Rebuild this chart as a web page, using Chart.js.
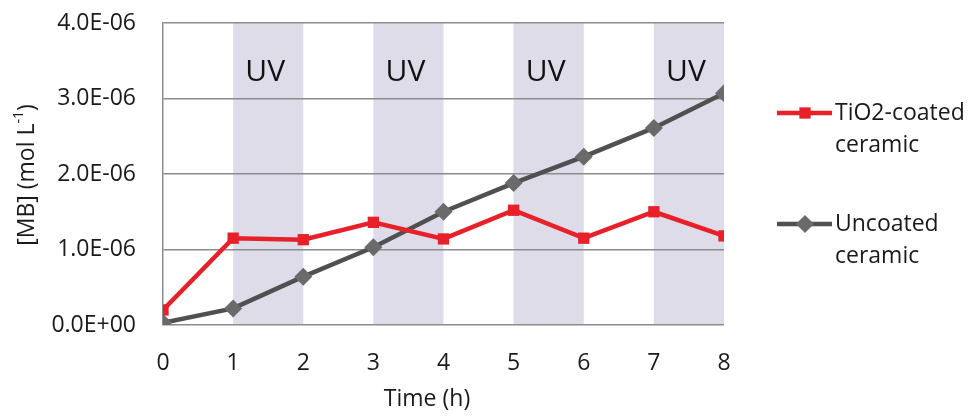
<!DOCTYPE html>
<html>
<head>
<meta charset="utf-8">
<script src="https://cdn.jsdelivr.net/npm/chart.js@4/dist/chart.umd.min.js"></script>
<style>
  html, body { margin: 0; padding: 0; background: #fff; }
</style>
</head>
<body>
<canvas id="mb-chart" width="970" height="416"></canvas>
<script>
// time points (h)
const hours = [0, 1, 2, 3, 4, 5, 6, 7, 8];
// [MB] in mol/L
const coatedValues = [0.20e-6, 1.15e-6, 1.13e-6, 1.36e-6, 1.14e-6, 1.52e-6, 1.15e-6, 1.50e-6, 1.18e-6];
const uncoatedValues = [0.03e-6, 0.22e-6, 0.64e-6, 1.03e-6, 1.50e-6, 1.88e-6, 2.23e-6, 2.61e-6, 3.07e-6];
// UV on periods
const uvBands = [[1, 2], [3, 4], [5, 6], [7, 8]];
const uvLabel = 'UV';
const yTicks = [0, 1e-6, 2e-6, 3e-6, 4e-6];

const FONT = '"Open Sans", sans-serif';
const RED = '#e8202a';
const GREY = '#505050';

function toPoints(vals) {
  return hours.map((h, i) => ({ x: h, y: vals[i] }));
}

function fmtSci(v) {
  // Excel style 1.0E-06
  if (v === 0) return '0.0E+00';
  let exp = Math.floor(Math.log10(Math.abs(v)) + 1e-9);
  let mant = v / Math.pow(10, exp);
  let sign = exp < 0 ? '-' : '+';
  let e = String(Math.abs(exp)).padStart(2, '0');
  return mant.toFixed(1) + 'E' + sign + e;
}

const uvPlugin = {
  id: 'uvBands',
  beforeDraw(chart) {
    const { ctx, chartArea, scales } = chart;
    ctx.save();
    ctx.fillStyle = '#dddce8';
    uvBands.forEach(b => {
      let x1 = scales.x.getPixelForValue(b[0]);
      let x2 = scales.x.getPixelForValue(b[1]);
      ctx.fillRect(x1, chartArea.top, x2 - x1, chartArea.bottom - chartArea.top);
    });
    ctx.fillStyle = '#111';
    ctx.font = '30px ' + FONT;
    ctx.textAlign = 'center';
    ctx.textBaseline = 'middle';
    uvBands.forEach(b => {
      let cx = scales.x.getPixelForValue((b[0] + b[1]) / 2);
      ctx.fillText(uvLabel, cx - 3, 72);
    });
    ctx.restore();
  }
};

const extrasPlugin = {
  id: 'extras',
  afterDraw(chart) {
    const { ctx } = chart;
    ctx.save();
    ctx.fillStyle = '#1a1a1a';
    ctx.textBaseline = 'middle';

    // x title
    ctx.font = '23px ' + FONT;
    ctx.textAlign = 'center';
    ctx.fillText('Time (h)', 427, 399);

    // y title with superscript
    ctx.save();
    ctx.translate(27, 175);
    ctx.rotate(-Math.PI / 2);
    const main = '[MB] (mol L';
    const sup = '-1';
    const tail = ')';
    ctx.font = '23px ' + FONT;
    let wMain = ctx.measureText(main).width;
    let wTail = ctx.measureText(tail).width;
    ctx.font = '14px ' + FONT;
    let wSup = ctx.measureText(sup).width;
    let x0 = -(wMain + wSup + wTail) / 2;
    ctx.textAlign = 'left';
    ctx.font = '23px ' + FONT;
    ctx.fillText(main, x0, 0);
    ctx.font = '14px ' + FONT;
    ctx.fillText(sup, x0 + wMain, -8);
    ctx.font = '23px ' + FONT;
    ctx.fillText(tail, x0 + wMain + wSup, 0);
    ctx.restore();

    // legend
    const items = [
      { ds: chart.data.datasets[0], lines: ['TiO2-coated', 'ceramic'], y: 113 },
      { ds: chart.data.datasets[1], lines: ['Uncoated', 'ceramic'], y: 224 }
    ];
    items.forEach(it => {
      ctx.strokeStyle = it.ds.borderColor;
      ctx.lineWidth = 4.5;
      ctx.beginPath();
      ctx.moveTo(777, it.y);
      ctx.lineTo(832, it.y);
      ctx.stroke();
      ctx.fillStyle = it.ds.backgroundColor;
      ctx.strokeStyle = it.ds.backgroundColor;
      Chart.helpers.drawPoint(ctx, {
        pointStyle: it.ds.pointStyle,
        radius: it.ds.pointRadius,
        borderWidth: 0
      }, 805, it.y);
      ctx.fillStyle = '#1a1a1a';
      ctx.font = '23px ' + FONT;
      ctx.textAlign = 'left';
      it.lines.forEach((t, i) => ctx.fillText(t, 835, it.y + i * 32));
    });
    ctx.restore();
  }
};

new Chart(document.getElementById('mb-chart'), {
  type: 'line',
  data: {
    datasets: [
      {
        label: 'TiO2-coated ceramic',
        data: toPoints(coatedValues),
        borderColor: RED,
        backgroundColor: RED,
        borderWidth: 4.5,
        pointStyle: 'rect',
        pointRadius: 8,
        pointBorderWidth: 0,
        tension: 0
      },
      {
        label: 'Uncoated ceramic',
        data: toPoints(uncoatedValues),
        borderColor: GREY,
        backgroundColor: '#6a6a6a',
        borderWidth: 4.5,
        pointStyle: 'rectRot',
        pointRadius: 9,
        pointBorderWidth: 0,
        tension: 0
      }
    ]
  },
  options: {
    responsive: false,
    animation: false,
    devicePixelRatio: 1,
    layout: { padding: { top: 23, right: 246, bottom: 0, left: 0 } },
    plugins: {
      legend: { display: false },
      tooltip: { enabled: false }
    },
    scales: {
      x: {
        type: 'linear',
        min: 0,
        max: 8,
        afterFit(scale) { scale.height = 91; },
        afterBuildTicks(scale) { scale.ticks = hours.map(h => ({ value: h })); },
        grid: { display: false, drawTicks: false },
        border: { display: false },
        ticks: {
          color: '#1a1a1a',
          font: { family: FONT, size: 23 },
          padding: 25,
          maxRotation: 0
        }
      },
      y: {
        min: 0,
        max: 4e-6,
        afterFit(scale) {
          scale.width = 163;
          scale.paddingTop = 0;
          scale.paddingBottom = 0;
        },
        afterBuildTicks(scale) { scale.ticks = yTicks.map(v => ({ value: v })); },
        grid: { color: '#8c8c8c', lineWidth: 1.5, drawTicks: false },
        border: { display: true, color: '#8c8c8c', width: 1.5 },
        ticks: {
          color: '#1a1a1a',
          font: { family: FONT, size: 23 },
          padding: 27,
          callback: v => fmtSci(v)
        }
      }
    }
  },
  plugins: [uvPlugin, extrasPlugin]
});
</script>
</body>
</html>
